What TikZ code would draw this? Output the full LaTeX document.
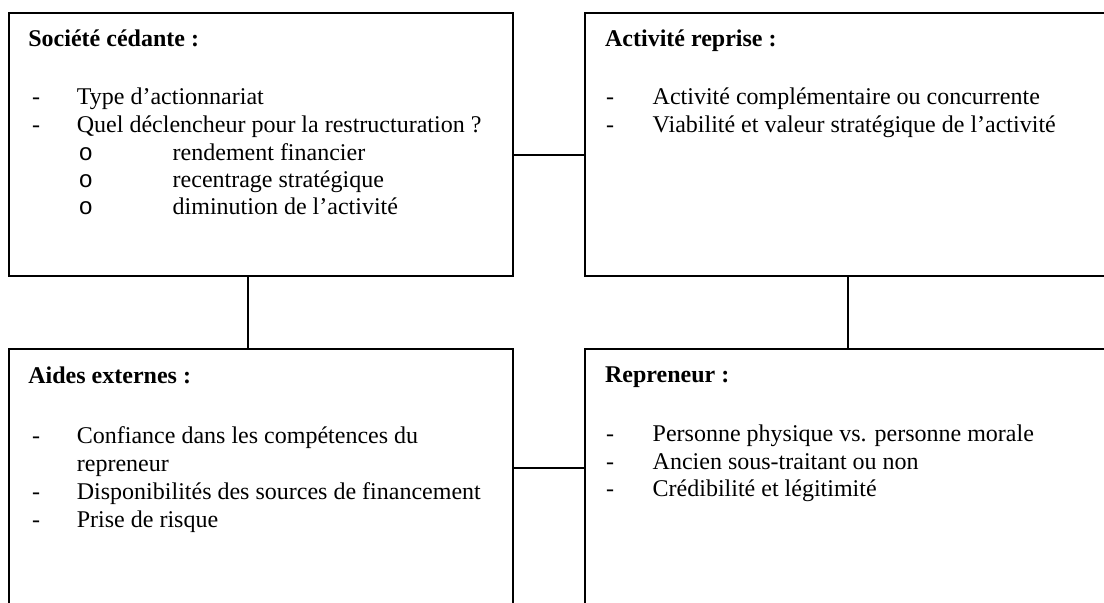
\documentclass[tikz,border=0pt]{standalone}
\usepackage{fontspec}
\setmainfont{Liberation Serif}
\newfontfamily\bulletfont{Liberation Mono}
\begin{document}
\begin{tikzpicture}[x=0.5pt,y=-0.5pt,
  box/.style={draw,line width=1pt,inner sep=0pt,anchor=north west},
  conn/.style={line width=1pt},
  ttl/.style={inner sep=0pt,anchor=base west,font=\fontsize{12}{14}\selectfont\bfseries},
  txt/.style={inner sep=0pt,anchor=base west,font=\fontsize{12}{14}\selectfont},
  obul/.style={inner sep=0pt,anchor=base west,font=\fontsize{12}{14}\bulletfont}]
\useasboundingbox (0,0) rectangle (1104,602);
\clip (0,0) rectangle (1104,602);
% boxes
\node[box,minimum width=252.25pt,minimum height=131.75pt] (tl) at (7.5,11.5) {};
\node[box,minimum width=273pt,minimum height=131.75pt] (tr) at (584,11.5) {};
\node[box,minimum width=252.25pt,minimum height=141.15pt] (bl) at (7.5,347.7) {};
\node[box,minimum width=273pt,minimum height=141.15pt] (br) at (584,347.7) {};
% connector guides
\coordinate (ytop) at (0,155);
\coordinate (ybot) at (0,468);
\coordinate (xleft) at (247.7,0);
\coordinate (xright) at (847.7,0);
\draw[conn] (tl.east |- ytop) -- (tr.west |- ytop);
\draw[conn] (bl.east |- ybot) -- (br.west |- ybot);
\draw[conn] (tl.south -| xleft) -- (bl.north -| xleft);
\draw[conn] (tr.south -| xright) -- (br.north -| xright);
% top-left text
\node[ttl] (tlt) at (28,46.5) {Société cédante :};
\node[txt] (tld1) at (31.8,104.8) {-};
\node[txt] (tli1) at (76.5,104.8) {Type d’actionnariat};
\node[txt] (tld2) at (31.8,132.5) {-};
\node[txt] (tli2) at (76.5,132.5) {Quel déclencheur pour la restructuration ?};
\node[obul] (tlo1) at (78.3,160.5) {o};
\node[txt] (tls1) at (172.3,160.5) {rendement financier};
\node[obul] (tlo2) at (78.3,187.5) {o};
\node[txt] (tls2) at (172.3,187.5) {recentrage stratégique};
\node[obul] (tlo3) at (78.3,214.2) {o};
\node[txt] (tls3) at (172.3,214.2) {diminution de l’activité};
% top-right text
\node[ttl] (trt) at (604.7,46.5) {Activité reprise :};
\node[txt] (trd1) at (605.8,104.8) {-};
\node[txt] (tri1) at (652.3,104.8) {Activité complémentaire ou concurrente};
\node[txt] (trd2) at (605.8,132.5) {-};
\node[txt] (tri2) at (652.3,132.5) {Viabilité et valeur stratégique de l’activité};
% bottom-left text
\node[ttl] (blt) at (28,383.4) {Aides externes :};
\node[txt] (bld1) at (31.8,443.4) {-};
\node[txt] (bli1) at (76.5,443.4) {Confiance dans les compétences du};
\node[txt] (bli1b) at (76.5,471) {repreneur};
\node[txt] (bld2) at (31.8,499) {-};
\node[txt] (bli2) at (76.5,499) {Disponibilités des sources de financement};
\node[txt] (bld3) at (31.8,527.3) {-};
\node[txt] (bli3) at (76.5,527.3) {Prise de risque};
% bottom-right text
\node[ttl] (brt) at (604.7,382.7) {Repreneur :};
\node[txt] (brd1) at (605.8,441.7) {-};
\node[txt] (bri1) at (652.3,441.7) {Personne physique vs. personne morale};
\node[txt] (brd2) at (605.8,469) {-};
\node[txt] (bri2) at (652.3,469) {Ancien sous-traitant ou non};
\node[txt] (brd3) at (605.8,496.7) {-};
\node[txt] (bri3) at (652.3,496.7) {Crédibilité et légitimité};
\end{tikzpicture}
\end{document}
